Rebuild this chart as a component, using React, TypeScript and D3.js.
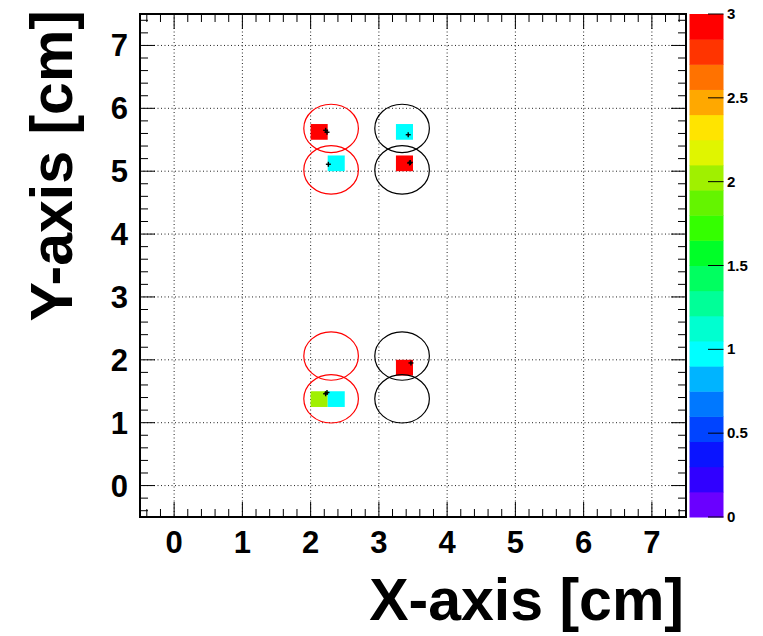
import React from 'react'
import * as d3 from 'd3'

// 2D histogram bins (lower-left corner, bin size 0.25 cm) and content
const binX = [2.0, 2.25, 3.25, 3.25, 3.25, 2.0, 2.25]
const binY = [5.5, 5.0, 5.5, 5.0, 1.75, 1.25, 1.25]
const binZ = [3, 1, 1, 3, 3, 2, 1]
const binSize = 0.25

// circles (pad footprints)
const circX = [2.3, 2.3, 3.34, 3.34, 2.3, 2.3, 3.34, 3.34]
const circY = [5.68, 5.02, 5.68, 5.02, 2.06, 1.38, 2.06, 1.38]
const circColor = ['red', 'red', 'black', 'black', 'red', 'red', 'black', 'black']
const circRx = 0.4
const circRy = 0.385

// reconstructed hit markers
const hitX = [2.22, 2.24, 2.26, 3.43, 3.45, 3.46, 3.47, 2.22, 2.24]
const hitY = [5.65, 5.62, 5.11, 5.58, 5.13, 5.14, 1.95, 1.46, 1.48]

const axisTicks = [0, 1, 2, 3, 4, 5, 6, 7]
const zTicks = [0, 0.5, 1, 1.5, 2, 2.5, 3]
const zTickLabels = ['0', '0.5', '1', '1.5', '2', '2.5', '3']

// palette, 20 levels from 0 to 3 (bottom to top)
const palette = [
  '#6a00ff', '#3000ff', '#0a14ff', '#0044ff', '#0078ff',
  '#00b4ff', '#00ffff', '#00ffd0', '#00ff98', '#00ff60',
  '#00ff28', '#34ff00', '#64f400', '#a0f000', '#e0f500',
  '#ffe400', '#ffa800', '#ff7200', '#ff3400', '#ff0000',
]

const W = 763
const H = 636
const left = 140
const right = 686
const top = 14
const bottom = 517
const font = '"Liberation Sans", Arial, Helvetica, sans-serif'

export default function App() {
  const x = d3.scaleLinear().domain([-0.5, 7.5]).range([left, right])
  const y = d3.scaleLinear().domain([-0.5, 7.5]).range([bottom, top])
  const z = d3.scaleLinear().domain([0, 3]).range([bottom, top])
  const nLev = palette.length
  const levColor = (v: number) => {
    const i = Math.min(nLev - 1, Math.floor((v / 3) * nLev + 1e-6))
    return palette[i]
  }

  const minor = d3.range(-0.4, 7.5, 0.2).filter(v => Math.abs(v - Math.round(v)) > 0.01)

  const levels = d3.range(nLev).map(i => ({ lo: (i * 3) / nLev, hi: ((i + 1) * 3) / nLev }))

  return (
    <svg width={W} height={H} style={{ position: 'absolute', left: 0, top: 0, background: '#fff' }}>
      {/* grid */}
      <g stroke="#222" strokeWidth={1} strokeDasharray="1,2.5">
        {axisTicks.map(t => (
          <line key={'gx' + t} x1={x(t)} x2={x(t)} y1={top} y2={bottom} />
        ))}
        {axisTicks.map(t => (
          <line key={'gy' + t} x1={left} x2={right} y1={y(t)} y2={y(t)} />
        ))}
      </g>

      {/* bins */}
      {binX.map((bx, i) => (
        <rect
          key={'b' + i}
          x={x(bx)}
          y={y(binY[i] + binSize)}
          width={x(bx + binSize) - x(bx)}
          height={y(binY[i]) - y(binY[i] + binSize)}
          fill={levColor(binZ[i])}
        />
      ))}

      {/* circles */}
      {circX.map((cx, i) => (
        <ellipse
          key={'c' + i}
          cx={x(cx)}
          cy={y(circY[i])}
          rx={x(circRx) - x(0)}
          ry={y(0) - y(circRy)}
          fill="none"
          stroke={circColor[i]}
          strokeWidth={1.2}
        />
      ))}

      {/* hits */}
      <g stroke="#000" strokeWidth={1.4}>
        {hitX.map((hx, i) => (
          <g key={'h' + i}>
            <line x1={x(hx) - 2.5} x2={x(hx) + 2.5} y1={y(hitY[i])} y2={y(hitY[i])} />
            <line x1={x(hx)} x2={x(hx)} y1={y(hitY[i]) - 2.5} y2={y(hitY[i]) + 2.5} />
          </g>
        ))}
      </g>

      {/* ticks */}
      <g stroke="#000" strokeWidth={1}>
        {axisTicks.map(t => (
          <g key={'t' + t}>
            <line x1={x(t)} x2={x(t)} y1={bottom} y2={bottom - 15} />
            <line x1={x(t)} x2={x(t)} y1={top} y2={top + 15} />
            <line x1={left} x2={left + 15} y1={y(t)} y2={y(t)} />
            <line x1={right} x2={right - 15} y1={y(t)} y2={y(t)} />
          </g>
        ))}
        {minor.map((t, i) => (
          <g key={'m' + i}>
            <line x1={x(t)} x2={x(t)} y1={bottom} y2={bottom - 8} />
            <line x1={x(t)} x2={x(t)} y1={top} y2={top + 8} />
            <line x1={left} x2={left + 8} y1={y(t)} y2={y(t)} />
            <line x1={right} x2={right - 8} y1={y(t)} y2={y(t)} />
          </g>
        ))}
      </g>

      {/* frame */}
      <rect x={left} y={top} width={right - left} height={bottom - top} fill="none" stroke="#000" strokeWidth={2} />

      {/* tick labels */}
      <g fontFamily={font} fontWeight="bold" fontSize={31} fill="#000">
        {axisTicks.map(t => (
          <text key={'lx' + t} x={x(t)} y={bottom + 36} textAnchor="middle">
            {t}
          </text>
        ))}
        {axisTicks.map(t => (
          <text key={'ly' + t} x={left - 12} y={y(t) + 11} textAnchor="end">
            {t}
          </text>
        ))}
      </g>

      {/* axis titles */}
      <text x={684} y={620} textAnchor="end" fontFamily={font} fontWeight="bold" fontSize={59}>
        X-axis [cm]
      </text>
      <text
        transform="translate(72,10) rotate(-90)"
        textAnchor="end"
        fontFamily={font}
        fontWeight="bold"
        fontSize={59}
      >
        Y-axis [cm]
      </text>

      {/* color palette */}
      {levels.map((l, i) => (
        <rect
          key={'p' + i}
          x={689.5}
          y={z(l.hi)}
          width={34}
          height={z(l.lo) - z(l.hi) + 0.5}
          fill={palette[i]}
        />
      ))}
      <g stroke="#000" strokeWidth={1}>
        {zTicks.map(t => (
          <line key={'zt' + t} x1={708} x2={723.5} y1={z(t)} y2={z(t)} />
        ))}
      </g>
      <g fontFamily={font} fontWeight="bold" fontSize={15} fill="#000">
        {zTicks.map((t, i) => (
          <text key={'zl' + t} x={727} y={z(t) + 5}>
            {zTickLabels[i]}
          </text>
        ))}
      </g>
    </svg>
  )
}
